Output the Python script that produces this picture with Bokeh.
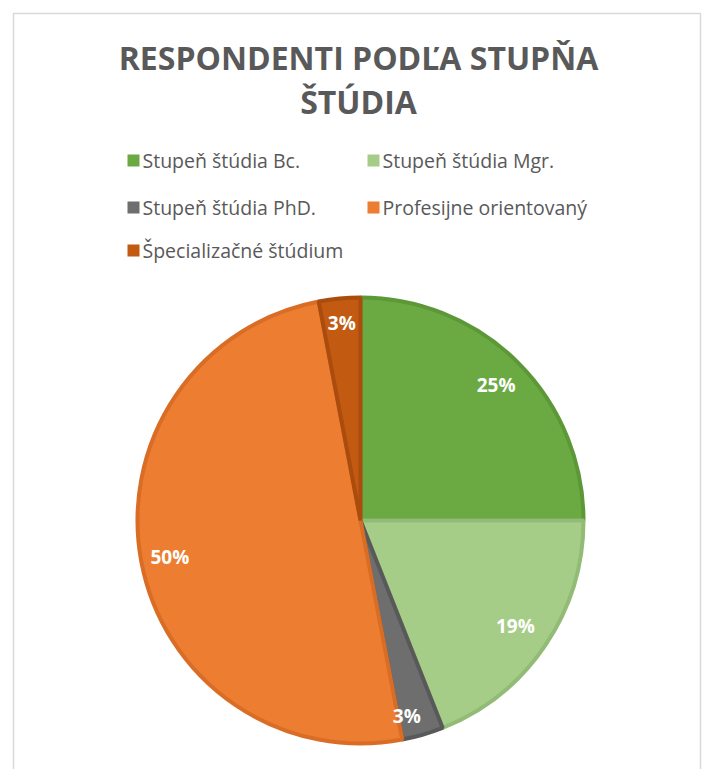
import math
from bokeh.plotting import figure
from bokeh.models import Range1d, ColumnDataSource
from bokeh.core.properties import value
from bokeh.embed import file_html
from bokeh.resources import INLINE

# ---- data ----
categories = ["Stupeň štúdia Bc.", "Stupeň štúdia Mgr.", "Stupeň štúdia PhD.",
              "Profesijne orientovaný", "Špecializačné štúdium"]
percent = [25, 19, 3, 50, 3]
labels = ["25%", "19%", "3%", "50%", "3%"]
colors = ["#6BAA43", "#A5CD88", "#6E6E6E", "#EC7D31", "#C25A12"]
edge_colors = ["#5C9838", "#92BC76", "#595959", "#D96D26", "#A94C0E"]
title_lines = ["RESPONDENTI PODĽA STUPŇA", "ŠTÚDIA"]

# ---- layout (page pixel coordinates) ----
W, H = 705, 769
def fx(px):
    return px
def fy(py):
    return H - py

p = figure(width=W, height=H, output_backend="svg", toolbar_location=None,
           x_range=Range1d(0, W), y_range=Range1d(0, H), min_border=0)
p.axis.visible = False
p.grid.visible = False
p.outline_line_color = None
p.background_fill_color = "white"

# chart frame
p.quad(left=[fx(13)], right=[fx(700)], top=[fy(13)], bottom=[fy(800)],
       fill_color=None, line_color="#D9D9D9", line_width=1.5)

# title
p.text(x=[fx(358), fx(358)], y=[fy(57), fy(101)], text=title_lines,
       text_font=value("Open Sans"), text_font_style="bold", text_font_size="32px",
       text_color="#595959", text_align="center", text_baseline="middle")

# legend
leg_x = [127, 367, 127, 367, 127]
leg_y = [160, 160, 207, 207, 250]
p.rect(x=[fx(x) + 6 for x in leg_x], y=[fy(y) for y in leg_y], width=12, height=12,
       fill_color=colors, line_color=None)
p.text(x=[fx(x) + 15 for x in leg_x], y=[fy(y) for y in leg_y], text=categories,
       text_font=value("Open Sans"), text_font_size="19.5px", text_color="#595959",
       text_align="left", text_baseline="middle")

# pie
cx, cy, r = fx(360), fy(520), 223
total = float(sum(percent))
starts, ends, mids = [], [], []
acc = 0.0
for v in percent:
    a0 = math.pi / 2 - 2 * math.pi * acc / total
    acc += v
    a1 = math.pi / 2 - 2 * math.pi * acc / total
    starts.append(a0)
    ends.append(a1)
    mids.append((a0 + a1) / 2)

src = ColumnDataSource(dict(start=starts, end=ends, fill=colors, edge=edge_colors))
p.wedge(x=cx, y=cy, radius=r, start_angle="start", end_angle="end", direction="clock",
        fill_color="fill", line_color="edge", line_width=4, source=src)

label_r = [0.86, 0.84, 0.9, 0.87, 0.89]
label_da = [0.0, 0.0, -0.05, 0.0, 0.0]
p.text(x=[cx + f * r * math.cos(m + d) for m, f, d in zip(mids, label_r, label_da)],
       y=[cy + f * r * math.sin(m + d) for m, f, d in zip(mids, label_r, label_da)],
       text=labels, text_font=value("Open Sans"), text_font_style="bold",
       text_font_size="19px", text_color="white", text_align="center",
       text_baseline="middle")

open("out.html", "w").write(file_html(p, INLINE))
